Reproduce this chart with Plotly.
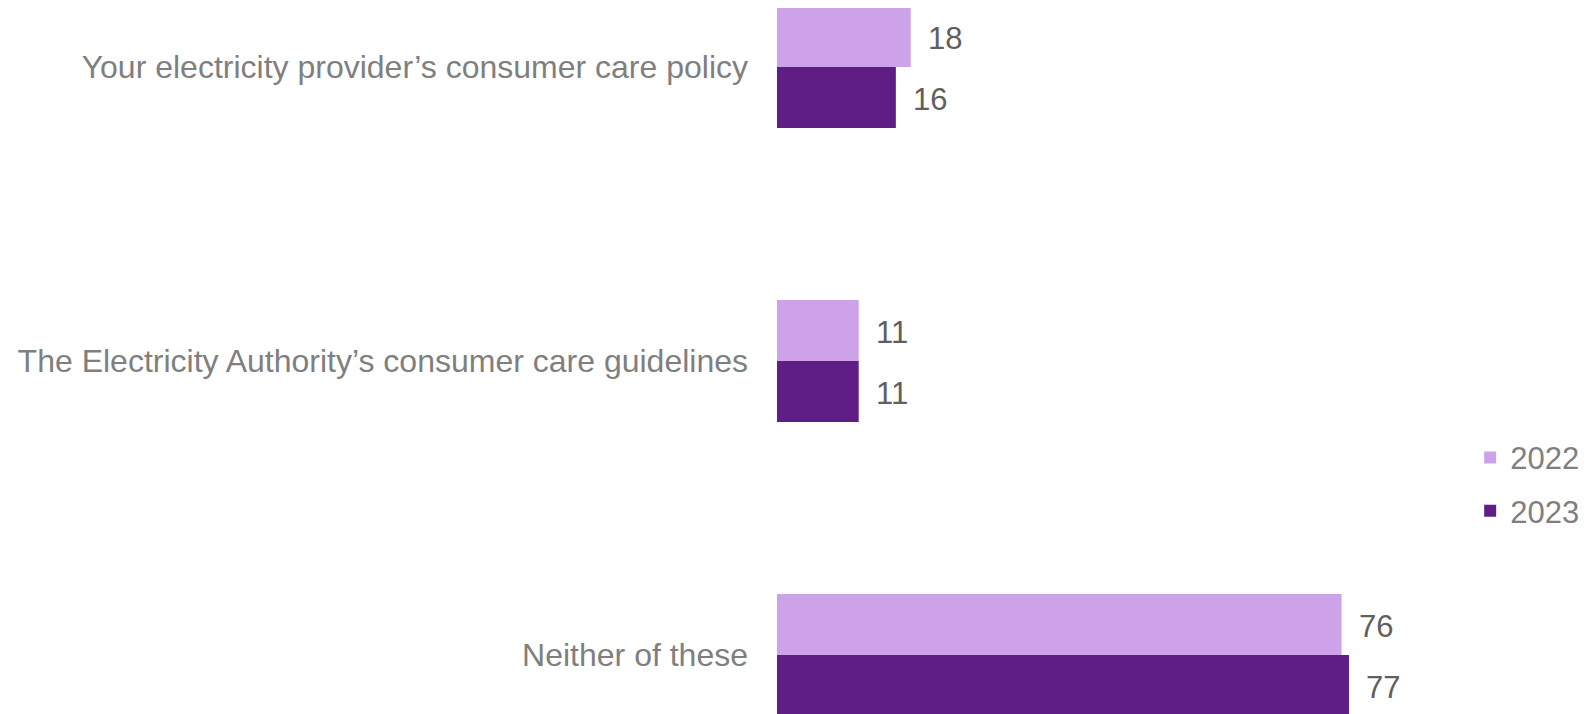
import plotly.graph_objects as go

categories = [
    "Your electricity provider’s consumer care policy",
    "The Electricity Authority’s consumer care guidelines",
    "Neither of these",
]
series_names = ["2022", "2023"]
values_2022 = [18, 11, 76]
values_2023 = [16, 11, 77]
colors = ["#CDA2E8", "#5F1E86"]

fig = go.Figure()
for name, vals, col in zip(series_names, [values_2022, values_2023], colors):
    fig.add_trace(go.Bar(
        y=categories, x=vals, name=name, orientation="h",
        marker=dict(color=col, line=dict(width=0)),
        legendgroup=name,
    ))

# value labels
offsets = [-0.1035, 0.1035]
for vals, off in zip([values_2022, values_2023], offsets):
    for i, v in enumerate(vals):
        fig.add_annotation(
            x=v, y=i + off, xref="x", yref="y", text=str(v),
            showarrow=False, xanchor="left", xshift=15, yshift=-2,
            font=dict(family="Liberation Sans, Arial", size=31, color="#5f5f5f"),
        )

fig.update_layout(
    width=1591, height=714,
    margin=dict(l=769, r=71, t=0, b=0, autoexpand=False),
    paper_bgcolor="white", plot_bgcolor="white",
    barmode="group", bargap=0.585, bargroupgap=0,
    font=dict(family="Liberation Sans, Arial", color="#7f7f7f"),
    xaxis=dict(range=[0, 101.1], visible=False, fixedrange=True),
    yaxis=dict(
        type="category", range=[2.228, -0.2007], showgrid=False, zeroline=False,
        showline=False, ticks="", ticklabelstandoff=28,
        tickfont=dict(family="Liberation Sans, Arial", size=32, color="#7f7f7f"),
    ),
    legend=dict(
        x=0.923, y=0.333, xanchor="left", yanchor="middle",
        font=dict(family="Liberation Sans, Arial", size=31, color="#7f7f7f"),
        traceorder="grouped", tracegroupgap=10, itemwidth=30,
        bgcolor="rgba(0,0,0,0)",
    ),
    showlegend=True,
)

fig.write_html("out.html")
